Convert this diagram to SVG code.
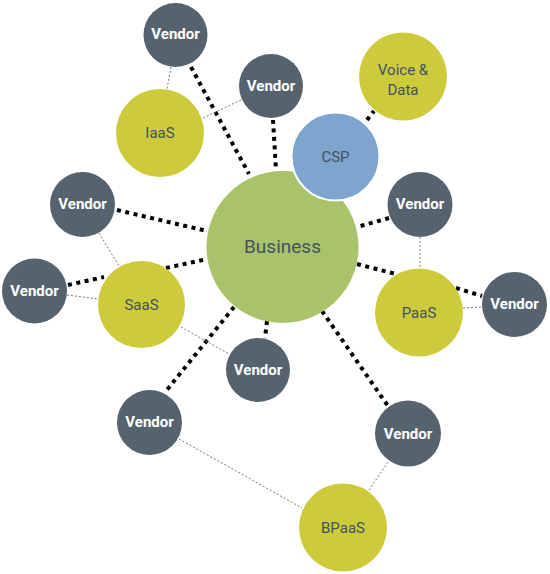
<svg xmlns="http://www.w3.org/2000/svg" width="550" height="574" viewBox="0 0 550 574">
<style>
.vendor circle{fill:#55636F}
.vendor text{fill:#fff;font-family:Roboto,"Liberation Sans",Arial,sans-serif;font-weight:bold;font-size:15px;text-anchor:middle;dominant-baseline:central}
.svc circle{fill:#CDCA3B}
.lbl{fill:#44525F;font-family:Roboto,"Liberation Sans",Arial,sans-serif;font-weight:normal;font-size:15px;text-anchor:middle;dominant-baseline:central}
.thick{stroke:#000;stroke-width:4;stroke-dasharray:4 4.5;fill:none}
.thin{stroke:#777;stroke-width:1;stroke-dasharray:2 2;fill:none}
</style>
<rect width="550" height="574" fill="#fff"/>
<g id="connectors">
<line class="thick" x1="191" y1="67" x2="249" y2="174"/>
<line class="thick" x1="273" y1="120" x2="276" y2="170"/>
<line class="thick" x1="367" y1="120" x2="374" y2="111"/>
<line class="thick" x1="117" y1="210" x2="207" y2="231"/>
<line class="thick" x1="166" y1="268" x2="207" y2="259"/>
<line class="thick" x1="68" y1="285" x2="104" y2="277"/>
<line class="thick" x1="234" y1="307" x2="166" y2="391"/>
<line class="thick" x1="267" y1="321" x2="265" y2="338"/>
<line class="thick" x1="322" y1="311" x2="388" y2="406"/>
<line class="thick" x1="389" y1="218" x2="357" y2="227"/>
<line class="thick" x1="357" y1="264" x2="396" y2="274"/>
<line class="thick" x1="456" y1="288" x2="482" y2="296"/>
<line class="thin" x1="171" y1="67" x2="167" y2="89"/>
<line class="thin" x1="241" y1="100" x2="203" y2="118"/>
<line class="thin" x1="99" y1="233" x2="119" y2="266"/>
<line class="thin" x1="67" y1="295" x2="98" y2="299"/>
<line class="thin" x1="181" y1="327" x2="229" y2="354"/>
<line class="thin" x1="420" y1="237" x2="420" y2="268"/>
<line class="thin" x1="463" y1="308" x2="482" y2="307"/>
<line class="thin" x1="179" y1="439" x2="302" y2="508"/>
<line class="thin" x1="388" y1="462" x2="369" y2="490"/>
</g>
<g id="business"><circle cx="282.5" cy="247" r="76" fill="#A9C36A"/><text class="lbl" x="282.5" y="246" style="font-size:19px">Business</text></g>
<g id="csp"><circle cx="335.5" cy="156.5" r="44" fill="#7DA5CD" stroke="#fff" stroke-width="2"/><text class="lbl" x="335.5" y="157">CSP</text></g>
<g id="voice" class="svc"><circle cx="403" cy="76.5" r="44"/><text class="lbl" x="403" y="70">Voice &amp;</text><text class="lbl" x="403" y="90">Data</text></g>
<g id="iaas" class="svc"><circle cx="160" cy="133" r="44"/><text class="lbl" x="160" y="133">IaaS</text></g>
<g id="saas" class="svc"><circle cx="141.5" cy="304.5" r="43.5"/><text class="lbl" x="141.5" y="304.5">SaaS</text></g>
<g id="paas" class="svc"><circle cx="419" cy="312.5" r="44"/><text class="lbl" x="419" y="312.5">PaaS</text></g>
<g id="bpaas" class="svc"><circle cx="343" cy="527.5" r="44"/><text class="lbl" x="343" y="527.5">BPaaS</text></g>
<g id="vendor1" class="vendor"><circle cx="175.5" cy="35" r="32"/><text x="175.5" y="34">Vendor</text></g>
<g id="vendor2" class="vendor"><circle cx="271" cy="86" r="32"/><text x="271" y="86">Vendor</text></g>
<g id="vendor3" class="vendor"><circle cx="82.5" cy="204.5" r="32.5"/><text x="82.5" y="204">Vendor</text></g>
<g id="vendor4" class="vendor"><circle cx="34.5" cy="291" r="32.5"/><text x="34.5" y="291">Vendor</text></g>
<g id="vendor5" class="vendor"><circle cx="258" cy="370" r="32"/><text x="258" y="370">Vendor</text></g>
<g id="vendor6" class="vendor"><circle cx="149.5" cy="422.5" r="32.5"/><text x="149.5" y="422">Vendor</text></g>
<g id="vendor7" class="vendor"><circle cx="408" cy="433.5" r="33"/><text x="408" y="433.5">Vendor</text></g>
<g id="vendor8" class="vendor"><circle cx="420" cy="204.5" r="32.5"/><text x="420" y="204">Vendor</text></g>
<g id="vendor9" class="vendor"><circle cx="514.5" cy="304.5" r="32.5"/><text x="514.5" y="304">Vendor</text></g>
</svg>
